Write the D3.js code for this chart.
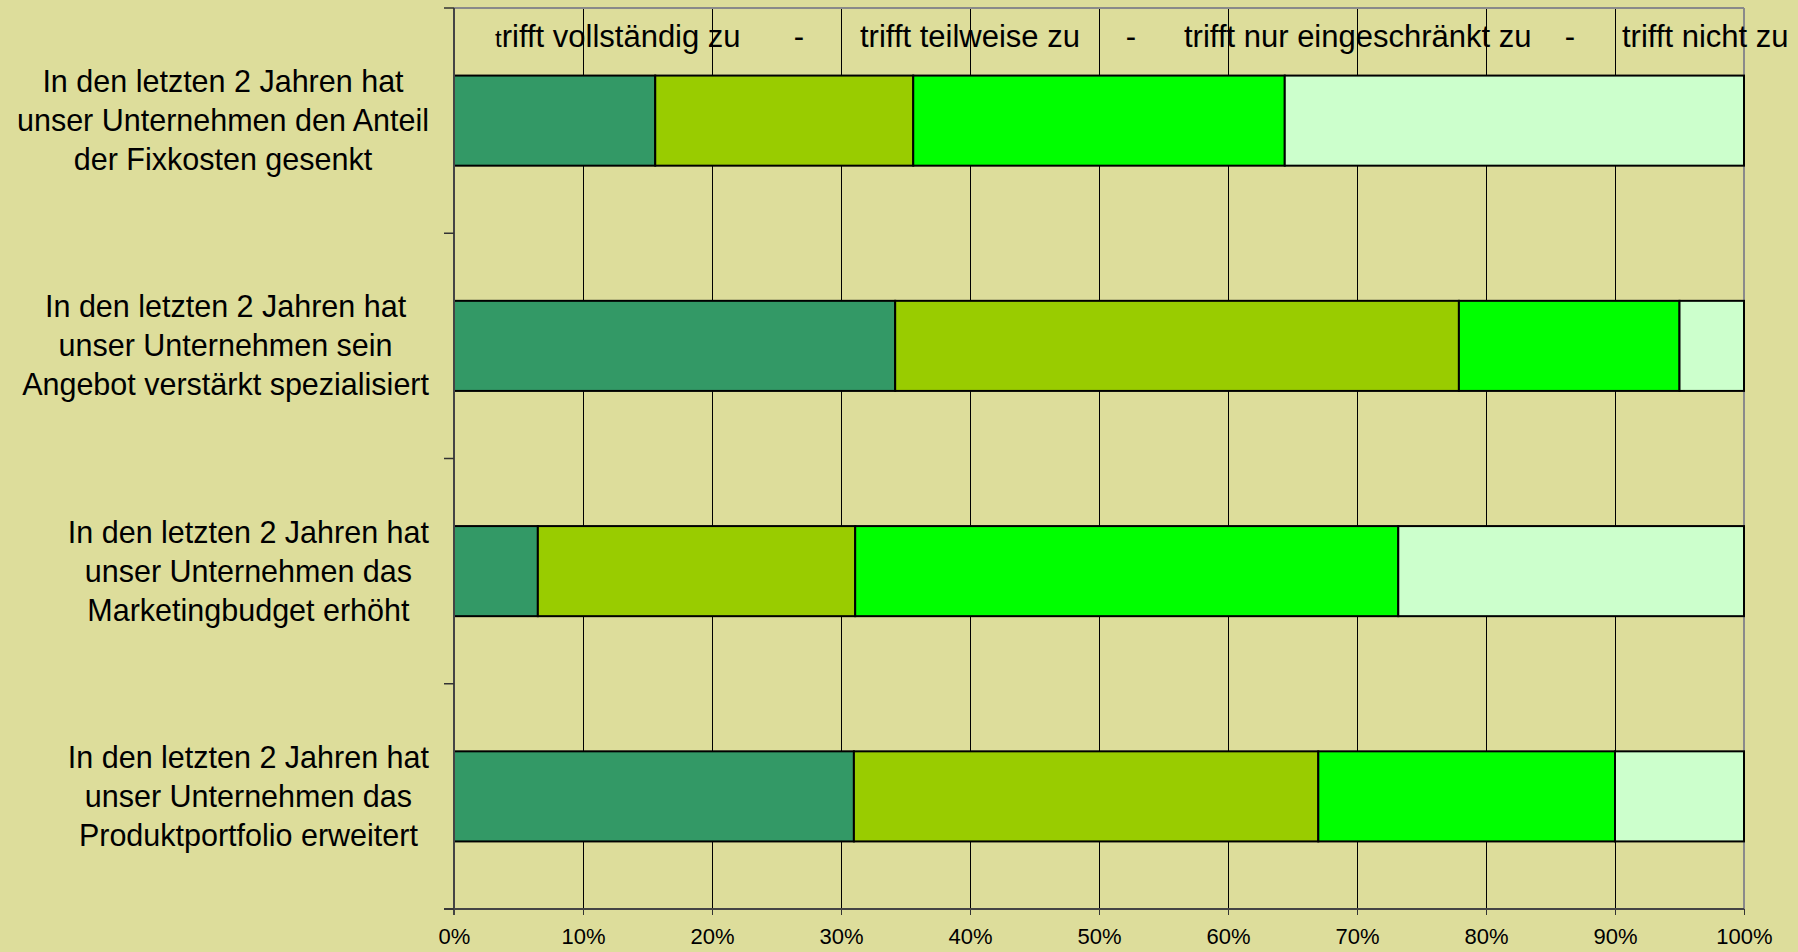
<!DOCTYPE html>
<html><head><meta charset="utf-8">
<script src="https://cdn.jsdelivr.net/npm/d3@7"></script>
<style>
html,body{margin:0;padding:0;background:#DDDD9B;}
svg{display:block;font-family:"Liberation Sans",Arial,sans-serif;}
</style>
</head><body>
<svg id="c" width="1798" height="952"></svg>
<script>
// ---- data ----
const categories = [
  ["In den letzten 2 Jahren hat", "unser Unternehmen den Anteil", "der Fixkosten gesenkt"],
  ["In den letzten 2 Jahren hat", "unser Unternehmen sein", "Angebot verstärkt spezialisiert"],
  ["In den letzten 2 Jahren hat", "unser Unternehmen das", "Marketingbudget erhöht"],
  ["In den letzten 2 Jahren hat", "unser Unternehmen das", "Produktportfolio erweitert"]
];
const seriesNames = ["trifft vollständig zu", "trifft teilweise zu", "trifft nur eingeschränkt zu", "trifft nicht zu"];
const vollstaendig   = [15.6, 34.2, 6.5, 31.0];
const teilweise      = [20.0, 43.7, 24.6, 36.0];
const eingeschraenkt = [28.8, 17.1, 42.1, 23.0];
const nicht          = [35.6, 5.0, 26.8, 10.0];
const xTicks = [0, 10, 20, 30, 40, 50, 60, 70, 80, 90, 100];
const colors = ["#339966", "#99CC00", "#00FF00", "#CCFFCC"];

// ---- layout ----
const W = 1798, H = 952;
const plot = {left: 454, right: 1744, top: 8, bottom: 909};
const svg = d3.select("#c");
svg.append("rect").attr("width", W).attr("height", H).attr("fill", "#DDDD9B");

const x = d3.scaleLinear().domain([0, 100]).range([plot.left, plot.right]);
const y = d3.scaleBand().domain(d3.range(categories.length)).range([plot.top, plot.bottom])
  .paddingInner(0.6).paddingOuter(0.3);

const rows = categories.map((c, i) => ({
  i, s0: vollstaendig[i], s1: teilweise[i], s2: eingeschraenkt[i], s3: nicht[i]
}));
const stack = d3.stack().keys(["s0", "s1", "s2", "s3"]);
const stacked = stack(rows);

// gridlines
svg.append("g").selectAll("line").data(xTicks.slice(1, -1)).join("line")
  .attr("x1", d => x(d)).attr("x2", d => x(d))
  .attr("y1", plot.top).attr("y2", plot.bottom)
  .attr("stroke", "#000").attr("stroke-width", 1).attr("shape-rendering", "crispEdges");

// plot border top/right
svg.append("line").attr("x1", plot.left).attr("x2", plot.right).attr("y1", plot.top).attr("y2", plot.top)
  .attr("stroke", "#8a8a8a").attr("stroke-width", 2);
svg.append("line").attr("x1", plot.right).attr("x2", plot.right).attr("y1", plot.top).attr("y2", plot.bottom)
  .attr("stroke", "#8a8a8a").attr("stroke-width", 2);

// bars
svg.append("g").selectAll("g").data(stacked).join("g")
  .attr("fill", (d, k) => colors[k])
  .selectAll("rect").data(d => d).join("rect")
  .attr("x", d => x(d[0])).attr("width", d => x(d[1]) - x(d[0]))
  .attr("y", d => y(d.data.i)).attr("height", y.bandwidth())
  .attr("stroke", "#000").attr("stroke-width", 2);

// bottom axis
const xAxis = d3.axisBottom(x).tickValues(xTicks).tickFormat(d => d + "%").tickSizeInner(6).tickSizeOuter(0).tickPadding(13);
const gx = svg.append("g").attr("transform", `translate(0,${plot.bottom})`).call(xAxis);
gx.select(".domain").remove();
gx.selectAll(".tick line").attr("stroke", "#333").attr("stroke-width", 1);
gx.selectAll(".tick text").attr("font-size", 22).attr("fill", "#000")
  .attr("font-family", "'Liberation Sans', Arial, sans-serif");
svg.append("line").attr("x1", plot.left - 10).attr("x2", plot.right).attr("y1", plot.bottom).attr("y2", plot.bottom)
  .attr("stroke", "#444").attr("stroke-width", 2);

// left axis
svg.append("line").attr("x1", plot.left).attr("x2", plot.left).attr("y1", plot.top).attr("y2", plot.bottom + 6)
  .attr("stroke", "#444").attr("stroke-width", 2);
const boundaries = d3.range(categories.length + 1).map(k => plot.top + k * y.step());
svg.append("g").selectAll("line").data(boundaries).join("line")
  .attr("x1", plot.left - 10).attr("x2", plot.left).attr("y1", d => d).attr("y2", d => d)
  .attr("stroke", "#333").attr("stroke-width", 1.5);

// category labels (block right-aligned, lines centered)
const labelRight = 429, lineH = 39;
categories.forEach((lines, i) => {
  const cy = y(i) + y.bandwidth() / 2;
  const t = svg.append("text").attr("font-size", 30.5).attr("fill", "#000").attr("text-anchor", "middle");
  const spans = lines.map((ln, j) => t.append("tspan").attr("y", cy + (j - (lines.length - 1) / 2) * lineH + 10.5).text(ln));
  const maxW = d3.max(spans, s => s.node().getComputedTextLength());
  spans.forEach(s => s.attr("x", labelRight - maxW / 2));
});

// legend line at top
const legendY = 47;
const legendX = [495, 860, 1184, 1622];
const dashX = [799, 1131, 1570];
const lg = svg.append("g").attr("font-size", 31).attr("fill", "#000");
seriesNames.forEach((n, k) => {
  const t = lg.append("text").attr("x", legendX[k]).attr("y", legendY);
  if (k === 0) {
    t.append("tspan").attr("font-size", 24).text(n[0]);
    t.append("tspan").text(n.slice(1));
  } else t.text(n);
});
dashX.forEach(dx => lg.append("text").attr("x", dx).attr("y", legendY).attr("text-anchor", "middle").text("-"));
</script>
</body></html>
